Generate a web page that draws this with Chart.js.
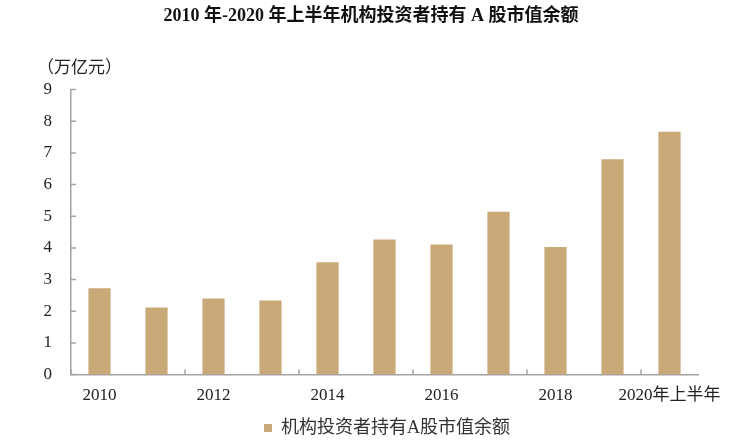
<!DOCTYPE html>
<html>
<head>
<meta charset="utf-8">
<script src="https://cdn.jsdelivr.net/npm/chart.js@4"></script>
<style>
  html, body { margin: 0; padding: 0; background: #fff; }
  #wrap { width: 751px; height: 442px; position: relative; }
</style>
</head>
<body>
<div id="wrap"><canvas id="chartAcoes"></canvas></div>
<script>
// dados (万亿元)
const years  = ['2010','2011','2012','2013','2014','2015','2016','2017','2018','2019','2020年上半年'];
const values = [2.73, 2.12, 2.40, 2.34, 3.55, 4.27, 4.11, 5.14, 4.03, 6.80, 7.67];
const yTicks = [0, 1, 2, 3, 4, 5, 6, 7, 8, 9];
const seriesName = '机构投资者持有A股市值余额';
const titleText  = '2010 年-2020 年上半年机构投资者持有 A 股市值余额';
const unitText   = '（万亿元）';

const serif    = "'Liberation Serif', 'Noto Sans CJK SC', serif";
const axisGray = '#a3a3a3';
const barColor = '#c9a978';

// título e legenda não ficam centrados na mesma caixa no original
const shiftBoxes = {
  id: 'shiftBoxes',
  afterLayout(chart) {
    const t = chart.titleBlock, l = chart.legend;
    if (t) { t.left += 22; t.right += 22; }
    if (l) { l.left += 38; l.right += 38; }
  }
};

// marcas de eixo voltadas para dentro + rótulo da unidade
const innerTicks = {
  id: 'innerTicks',
  afterDraw(chart) {
    const { ctx, scales: { x, y }, chartArea } = chart;
    ctx.save();
    ctx.strokeStyle = axisGray;
    ctx.lineWidth = 1.5;
    ctx.beginPath();
    yTicks.forEach(v => {
      const py = y.getPixelForValue(v);
      ctx.moveTo(chartArea.left, py);
      ctx.lineTo(chartArea.left + 5, py);
    });
    for (let i = 0; i <= years.length - 1; i += 2) {
      const px = x.getPixelForValue(i - 0.5);
      ctx.moveTo(px, chartArea.bottom);
      ctx.lineTo(px, chartArea.bottom - 5);
    }
    ctx.stroke();

    ctx.fillStyle = '#222';
    ctx.font = "17px " + serif;
    ctx.textAlign = 'left';
    ctx.textBaseline = 'middle';
    ctx.fillText(unitText, chartArea.left - 34, chartArea.top - 21);
    ctx.restore();
  }
};

new Chart(document.getElementById('chartAcoes'), {
  type: 'bar',
  data: {
    labels: years,
    datasets: [{
      label: seriesName,
      data: values,
      backgroundColor: barColor,
      borderWidth: 0,
      barPercentage: 0.39,
      categoryPercentage: 1.0,
    }]
  },
  options: {
    responsive: true,
    maintainAspectRatio: false,
    animation: false,
    layout: { padding: { left: 0, right: 53, top: 0, bottom: -5 } },
    plugins: {
      title: {
        display: true,
        text: titleText,
        color: '#111',
        font: { family: serif, size: 18, weight: 'bold' },
        padding: { top: 6, bottom: 62 },
      },
      legend: {
        display: true,
        position: 'bottom',
        labels: {
          color: '#333',
          font: { family: serif, size: 18 },
          boxWidth: 8,
          boxHeight: 8,
          padding: 2,
        }
      },
      tooltip: { enabled: false },
    },
    scales: {
      x: {
        grid: { display: false, drawTicks: false },
        border: { color: axisGray, width: 1.5 },
        ticks: {
          autoSkip: false,
          maxRotation: 0,
          padding: 11,
          color: '#222',
          font: { family: serif, size: 17 },
          callback: (v, i) => (i % 2 === 0 ? years[i] : ''),
        }
      },
      y: {
        min: 0,
        max: 9,
        afterFit: s => { s.width = 71; },
        grid: { display: false, drawTicks: false },
        border: { color: axisGray, width: 1.5 },
        ticks: {
          stepSize: 1,
          padding: 19,
          color: '#222',
          font: { family: serif, size: 17 },
        }
      }
    }
  },
  plugins: [shiftBoxes, innerTicks]
});
</script>
</body>
</html>
